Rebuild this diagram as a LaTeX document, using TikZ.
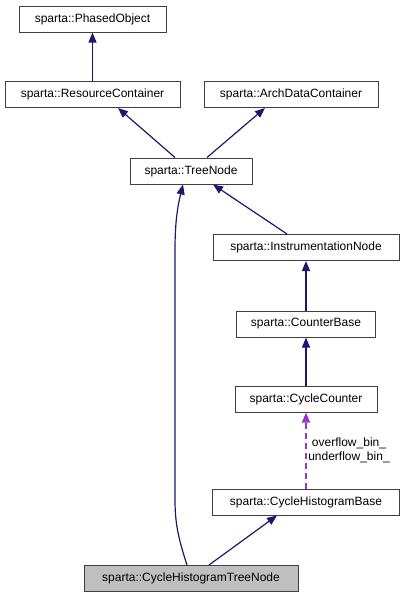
\documentclass[tikz,border=0pt]{standalone}
\usepackage{fontspec}
\setmainfont{Liberation Sans}
\usetikzlibrary{arrows.meta,calc}
\definecolor{EdgeClr}{rgb}{0.098,0.098,0.439}
\definecolor{UseClr}{rgb}{0.604,0.196,0.804}
\definecolor{BoxClr}{rgb}{0.25,0.25,0.25}
\definecolor{NowClr}{rgb}{0.75,0.75,0.75}

\begin{document}
\begin{tikzpicture}[x=1pt,y=-1pt,
  font=\fontsize{12}{14}\selectfont,
  cls/.style={draw=BoxClr,line width=1pt,fill=white,minimum height=26pt,inner sep=0pt},
  inh/.style={EdgeClr,line width=1.2pt,-{Triangle[length=10pt,width=8pt]}},
  use/.style={UseClr,line width=1.4pt,dash pattern=on 6pt off 4pt,-{Triangle[length=10pt,width=8pt]}}]
\useasboundingbox (0,0) rectangle (405,597);

\node[cls,minimum width=147pt] (po) at (92.5,19) {sparta::PhasedObject};
\node[cls,minimum width=175pt] (rc) at (92.5,94.5) {sparta::ResourceContainer};
\node[cls,minimum width=174pt] (adc) at (291,94.5) {sparta::ArchDataContainer};
\node[cls,minimum width=122pt] (tn) at (191,171) {sparta::TreeNode};
\node[cls,minimum width=186pt] (in) at (306,247.5) {sparta::InstrumentationNode};
\node[cls,minimum width=139pt] (cb) at (306,324) {sparta::CounterBase};
\node[cls,minimum width=142pt] (cc) at (306,399) {sparta::CycleCounter};
\node[cls,minimum width=187pt] (chb) at (306,502) {sparta::CycleHistogramBase};
\node[cls,minimum width=214pt,fill=NowClr] (chtn) at (191,578.5) {sparta::CycleHistogramTreeNode};

\draw[inh] (rc) -- (po);
\draw[inh] ([xshift=-16pt]tn.north) -- ([xshift=25.5pt]rc.south);
\draw[inh] ([xshift=16pt]tn.north) -- ([xshift=-26pt]adc.south);
\draw[inh] ([xshift=-19pt]in.north) -- ([xshift=22pt]tn.south);
\draw[inh] (cb) -- (in);
\draw[inh] (cc) -- (cb);
\draw[inh] ([xshift=-4pt]chtn.north) .. controls (179,540) and (175,525) .. (175,500)
  -- (175,250) .. controls (175,220) and (178,205) .. ([xshift=-8pt]tn.south);
\draw[inh] ([xshift=18pt]chtn.north) -- ([xshift=-29pt]chb.south);

\draw[use] (chb) -- (cc);
\node[align=center] (lbl) at (349,450) {overflow\_bin\_\\underflow\_bin\_};

\end{tikzpicture}
\end{document}
